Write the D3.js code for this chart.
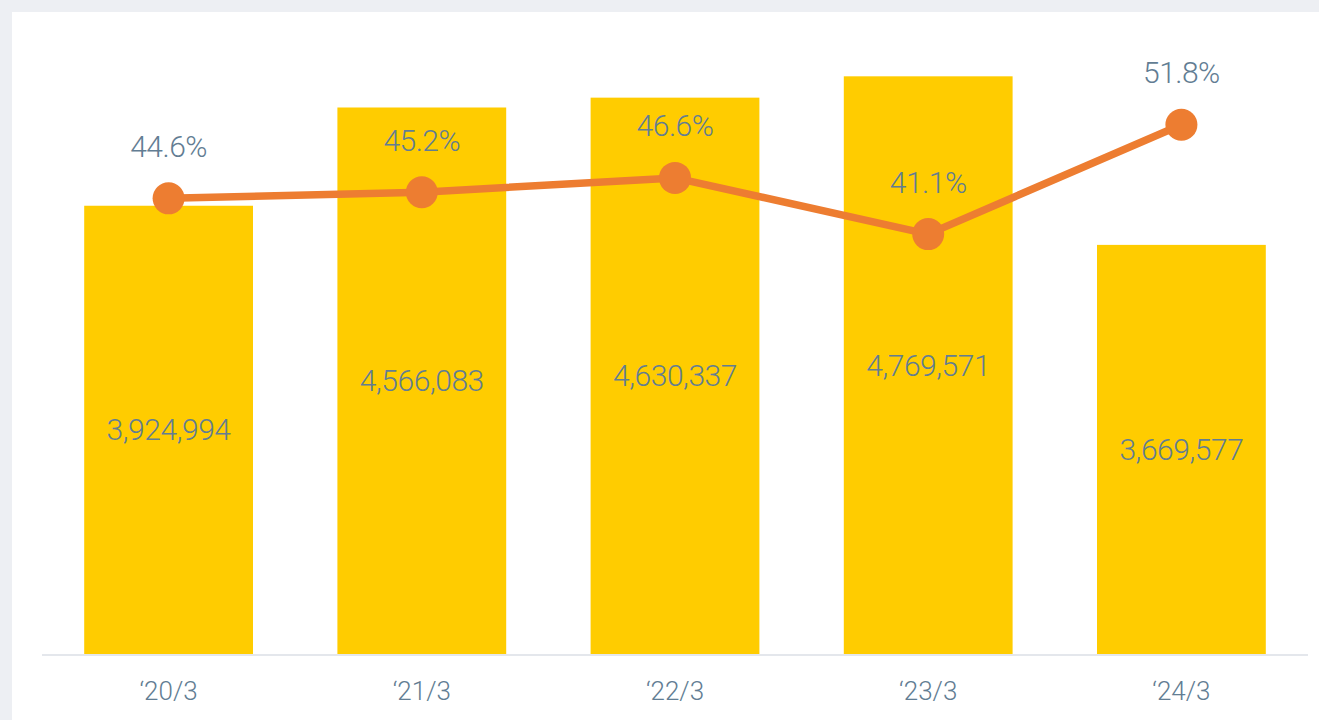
<!DOCTYPE html>
<html><head><meta charset="utf-8">
<script src="https://cdn.jsdelivr.net/npm/d3@7"></script>
<style>
html,body{margin:0;padding:0;background:#edeff3;}
svg{display:block;}
text{font-family:Roboto,"Noto Sans",sans-serif;font-weight:300;fill:#627d93;}
</style></head><body>
<svg id="chart" width="1319" height="720"></svg>
<script>
const categories = ["\u201820/3","\u201821/3","\u201822/3","\u201823/3","\u201824/3"];
const salesValues = [3924994, 4566083, 4630337, 4769571, 3669577];
const ratioValues = [44.6, 45.2, 46.6, 41.1, 51.8];

(function(){
const svg = d3.select("#chart");
svg.append("rect").attr("x",12).attr("y",12).attr("width",1319).attr("height",720).attr("fill","#ffffff");

const pl = 42, pr = 1308, pt = 41, pb = 654;
const x = d3.scaleBand().domain(categories).range([pl,pr]).paddingInner(1/3).paddingOuter(1/6);
const y = d3.scaleLinear().domain([1000000,5000000]).range([pb,pt]);
const y2 = d3.scaleLinear().domain([0,60]).range([pb,pt]);

svg.selectAll("rect.bar").data(salesValues).join("rect").attr("class","bar")
  .attr("x",(d,i)=>x(categories[i])).attr("width",x.bandwidth())
  .attr("y",d=>y(d)).attr("height",d=>pb-y(d)).attr("fill","#ffcc00");

svg.append("line").attr("x1",pl).attr("x2",pr).attr("y1",pb+1).attr("y2",pb+1)
  .attr("stroke","#e4e7ec").attr("stroke-width",2);

const cx = (i)=>x(categories[i])+x.bandwidth()/2;

svg.selectAll("text.val").data(salesValues).join("text").attr("class","val")
  .attr("x",(d,i)=>cx(i)).attr("y",d=>(y(d)+pb)/2+10.5)
  .attr("text-anchor","middle").attr("font-size",30).attr("letter-spacing",-0.45)
  .text(d=>d3.format(",")(d));

const line = d3.line().x((d,i)=>cx(i)).y(d=>y2(d));
svg.append("path").datum(ratioValues).attr("d",line).attr("fill","none")
  .attr("stroke","#ed7d31").attr("stroke-width",7.5).attr("stroke-linejoin","round");

svg.selectAll("circle.pt").data(ratioValues).join("circle").attr("class","pt")
  .attr("cx",(d,i)=>cx(i)).attr("cy",d=>y2(d)).attr("r",16).attr("fill","#ed7d31");

svg.selectAll("text.pct").data(ratioValues).join("text").attr("class","pct")
  .attr("x",(d,i)=>cx(i)).attr("y",d=>y2(d)-41.5)
  .attr("text-anchor","middle").attr("font-size",30).attr("letter-spacing",-0.5)
  .text(d=>d.toFixed(1)+"%");

const xAxis = d3.axisBottom(x).tickSize(0).tickPadding(0);
const gx = svg.append("g").attr("transform",`translate(0,${pb})`).call(xAxis);
gx.select(".domain").remove();
gx.selectAll("text").attr("y",46).attr("dy",null).attr("font-size",26)
  .style("font-family","Roboto, 'Noto Sans', sans-serif").style("font-weight",300).attr("fill","#627d93");
})();
</script>
</body></html>
